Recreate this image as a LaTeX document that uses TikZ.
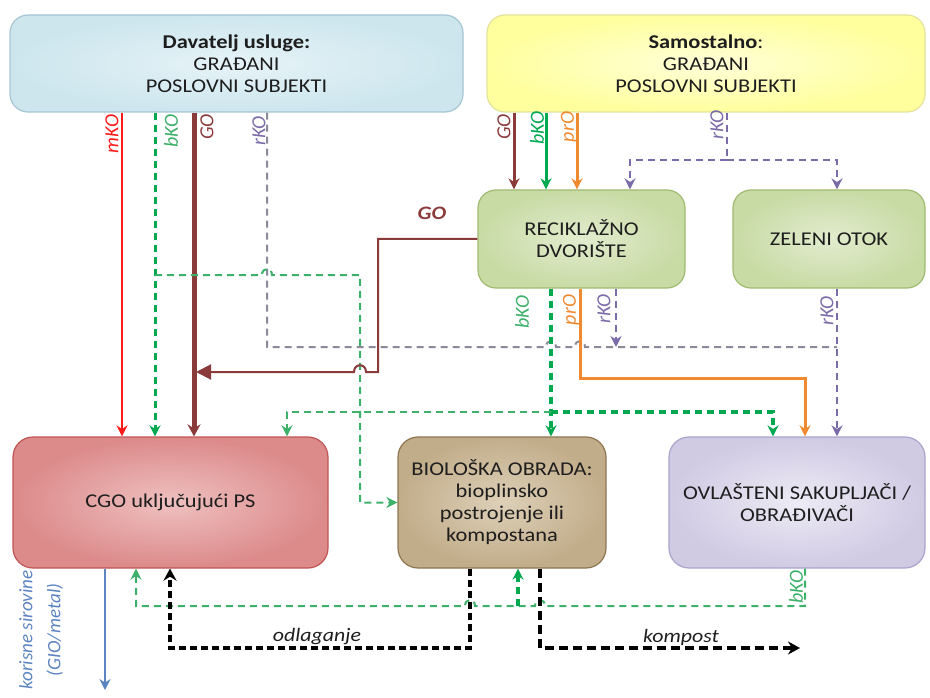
\documentclass[tikz,border=0pt]{standalone}
\usepackage{fontspec}
\setmainfont{Carlito}[FakeStretch=1.15]
\newfontfamily\lblfont{Carlito}
\usetikzlibrary{arrows.meta}
\definecolor{txt}{HTML}{1E1E1E}
\definecolor{cRed}{HTML}{FF1A1A}
\definecolor{cGreen}{HTML}{00A850}
\definecolor{cGreenL}{HTML}{3DB06A}
\definecolor{cBrown}{HTML}{8B3A3A}
\definecolor{cPurp}{HTML}{7B6BA8}
\definecolor{cGray}{HTML}{8A8A9A}
\definecolor{cOrange}{HTML}{F08A30}
\definecolor{cBlue}{HTML}{5B84C0}
\begin{document}
\begin{tikzpicture}[x=1pt,y=-1pt,
  box/.style={draw, rounded corners=18pt, align=center, inner sep=0pt, line width=1.2pt,
    font=\fontsize{19.5}{22}\selectfont, text=txt},
  arr/.style={-{Stealth[length=11pt,width=11pt]}},
  dsh/.style={dash pattern=on 7pt off 5pt},
  lbl/.style={font=\lblfont\itshape\fontsize{20}{22}\selectfont, rotate=90, inner sep=0pt},
  hlbl/.style={font=\itshape\fontsize{19}{22}\selectfont, inner sep=0pt, text=txt}]
\useasboundingbox (0,0) rectangle (930,698);
% boxes
\node[box, minimum width=453pt, minimum height=97pt, draw={rgb,255:red,165;green,197;blue,210}, inner color={rgb,255:red,230;green,243;blue,247}, outer color={rgb,255:red,205;green,230;blue,238}] (dav) at (236.5,63.5)
  {{\bfseries Davatelj usluge:}\\GRAĐANI\\POSLOVNI SUBJEKTI};
\node[box, minimum width=438pt, minimum height=97pt, draw={rgb,255:red,227;green,227;blue,154}, inner color={rgb,255:red,255;green,255;blue,216}, outer color={rgb,255:red,255;green,255;blue,158}] (sam) at (706,63.5)
  {{\bfseries Samostalno}:\\GRAĐANI\\POSLOVNI SUBJEKTI};
\node[box, minimum width=207pt, minimum height=98pt, draw={rgb,255:red,160;green,186;blue,112}, inner color={rgb,255:red,226;green,236;blue,206}, outer color={rgb,255:red,200;green,219;blue,165}] (rec) at (581.5,239)
  {RECIKLAŽNO\\DVORIŠTE};
\node[box, minimum width=192pt, minimum height=98pt, draw={rgb,255:red,160;green,186;blue,112}, inner color={rgb,255:red,226;green,236;blue,206}, outer color={rgb,255:red,200;green,219;blue,165}] (zel) at (829,239)
  {ZELENI OTOK};
\node[box, rounded corners=20pt, minimum width=315pt, minimum height=131pt, draw={rgb,255:red,192;green,85;blue,85}, inner color={rgb,255:red,239;green,192;blue,192}, outer color={rgb,255:red,220;green,138;blue,138}] (cgo) at (170.5,502.5)
  {CGO uključujući PS};
\node[box, rounded corners=20pt, minimum width=208pt, minimum height=131pt, draw={rgb,255:red,142;green,117;blue,80}, inner color={rgb,255:red,221;green,208;blue,184}, outer color={rgb,255:red,194;green,173;blue,138}] (bio) at (502,502.5)
  {BIOLOŠKA OBRADA:\\bioplinsko\\postrojenje ili\\kompostana};
\node[box, rounded corners=20pt, minimum width=256pt, minimum height=131pt, draw={rgb,255:red,171;green,163;blue,203}, inner color={rgb,255:red,237;green,235;blue,245}, outer color={rgb,255:red,208;green,202;blue,227}] (ovl) at (797,502.5)
  {OVLAŠTENI SAKUPLJAČI /\\OBRAĐIVAČI};
% junction coordinates
\coordinate (j1) at (551,412);
\coordinate (j2) at (155,275);
\coordinate (j3) at (727,160);
\coordinate (j4) at (518,606);
\coordinate (out1) at (105,690);
\coordinate (out2) at (800,648);
% from Davatelj
\draw[cRed, line width=2.5pt, arr] (122,0 |- dav.south) -- (122,0 |- cgo.north);
\draw[cGreen, line width=3pt, dsh, arr] (155,0 |- dav.south) -- (155,0 |- cgo.north);
\draw[cBrown, line width=5pt, -{Stealth[length=12pt,width=13pt]}] (194,0 |- dav.south) -- (194,0 |- cgo.north);
\draw[cGray, line width=2pt, dsh] (267,0 |- dav.south) -- (267,347) -- (546,347)
  .. controls +(0,-8) and +(0,-8) .. (556,347) -- (575,347)
  .. controls +(0,-8) and +(0,-8) .. (585,347) -- (837,347);
% green branch to BIO
\draw[cGreenL, line width=2pt, dsh, arr] (j2) -- (262,275)
  .. controls +(0,-8) and +(0,-8) .. (272,275) -- (360,275) -- (360,0 |- bio.west) -- (bio.west);
% GO from recycling yard
\draw[cBrown, line width=2pt, -{Triangle[length=15pt,width=15pt]}] (rec.west) -- (378,0 |- rec.west) -- (378,372) -- (366,372)
  .. controls +(0,-9) and +(0,-9) .. (354,372) -- (196,372);
% from recycling yard
\draw[cGreen, line width=3.5pt, dsh, arr] (551,0 |- rec.south) -- (551,0 |- bio.north);
\draw[cGreenL, line width=2pt, dsh, arr] (j1) -- (287,412) -- (287,0 |- cgo.north);
\draw[cGreen, line width=3.5pt, dsh, arr] (j1) -- (773,412) -- (773,0 |- ovl.north);
\draw[cOrange, line width=3pt, arr] (580,0 |- rec.south) -- (580,378) -- (805,378) -- (805,0 |- ovl.north);
\draw[cPurp, line width=2.5pt, dsh, arr] (616,0 |- rec.south) -- (616,347);
% from Samostalno
\draw[cBrown, line width=3pt, arr] (514,0 |- sam.south) -- (514,0 |- rec.north);
\draw[cGreen, line width=3pt, arr] (546,0 |- sam.south) -- (546,0 |- rec.north);
\draw[cOrange, line width=3pt, arr] (577,0 |- sam.south) -- (577,0 |- rec.north);
\draw[cPurp, line width=2.5pt, dsh] (727,0 |- sam.south) -- (j3);
\draw[cPurp, line width=2.5pt, dsh, arr] (j3) -| (630,0 |- rec.north);
\draw[cPurp, line width=2.5pt, dsh, arr] (j3) -| (837,0 |- zel.north);
% from Zeleni otok
\draw[cPurp, line width=2.5pt, dsh, arr] (837,0 |- zel.south) -- (837,0 |- ovl.north);
% bottom
\draw[cBlue, line width=2.5pt, arr] (105,0 |- cgo.south) -- (out1);
\draw[cGreenL, line width=2pt, dsh, arr] (805,0 |- ovl.south) -- (805,606) -- (545,606)
  .. controls +(0,-8) and +(0,-8) .. (535,606) -- (475,606)
  .. controls +(0,-8) and +(0,-8) .. (465,606) -- (136,606) -- (136,0 |- cgo.south);
\draw[cGreen, line width=3.5pt, dsh, arr] (j4) -- (518,0 |- bio.south);
\draw[black, line width=4.5pt, dash pattern=on 7pt off 4pt, -{Stealth[length=12pt,width=13pt]}] (470,0 |- bio.south) -- (470,648) -- (170,648) -- (170,0 |- cgo.south);
\draw[black, line width=3.5pt, dash pattern=on 9pt off 5pt, -{Stealth[length=12pt,width=13pt]}] (540,0 |- bio.south) -- (540,648) -- (out2);
% labels
\node[lbl, text=cRed] (l1) at (112,134) {mKO};
\node[lbl, text=cGreenL] (l2) at (171,131) {bKO};
\node[lbl, text=cBrown] (l3) at (207,127) {GO};
\node[lbl, text=cPurp] (l4) at (259,131) {rKO};
\node[lbl, text=cBrown] (l5) at (504,127) {GO};
\node[lbl, text=cGreen] (l6) at (537,128) {bKO};
\node[lbl, text=cOrange] (l7) at (569,127) {prO};
\node[lbl, text=cPurp] (l8) at (717,125) {rKO};
\node[font=\bfseries\itshape\fontsize{19}{22}\selectfont, text=cBrown] (l9) at (432,213) {GO};
\node[lbl, text=cGreenL] (l10) at (522,312) {bKO};
\node[lbl, text=cOrange] (l11) at (571,310) {prO};
\node[lbl, text=cPurp] (l12) at (604,309) {rKO};
\node[lbl, text=cPurp] (l13) at (827,311) {rKO};
\node[lbl, text=cGreenL] (l14) at (796,587) {bKO};
\node[hlbl] (l15) at (317,637) {odlaganje};
\node[hlbl] (l16) at (681,637) {kompost};
\node[lbl, text=cBlue, align=center, font=\lblfont\itshape\fontsize{19}{28}\selectfont] (l17) at (41,630) {korisne sirovine\\(GIO/metal)};
\end{tikzpicture}
\end{document}
